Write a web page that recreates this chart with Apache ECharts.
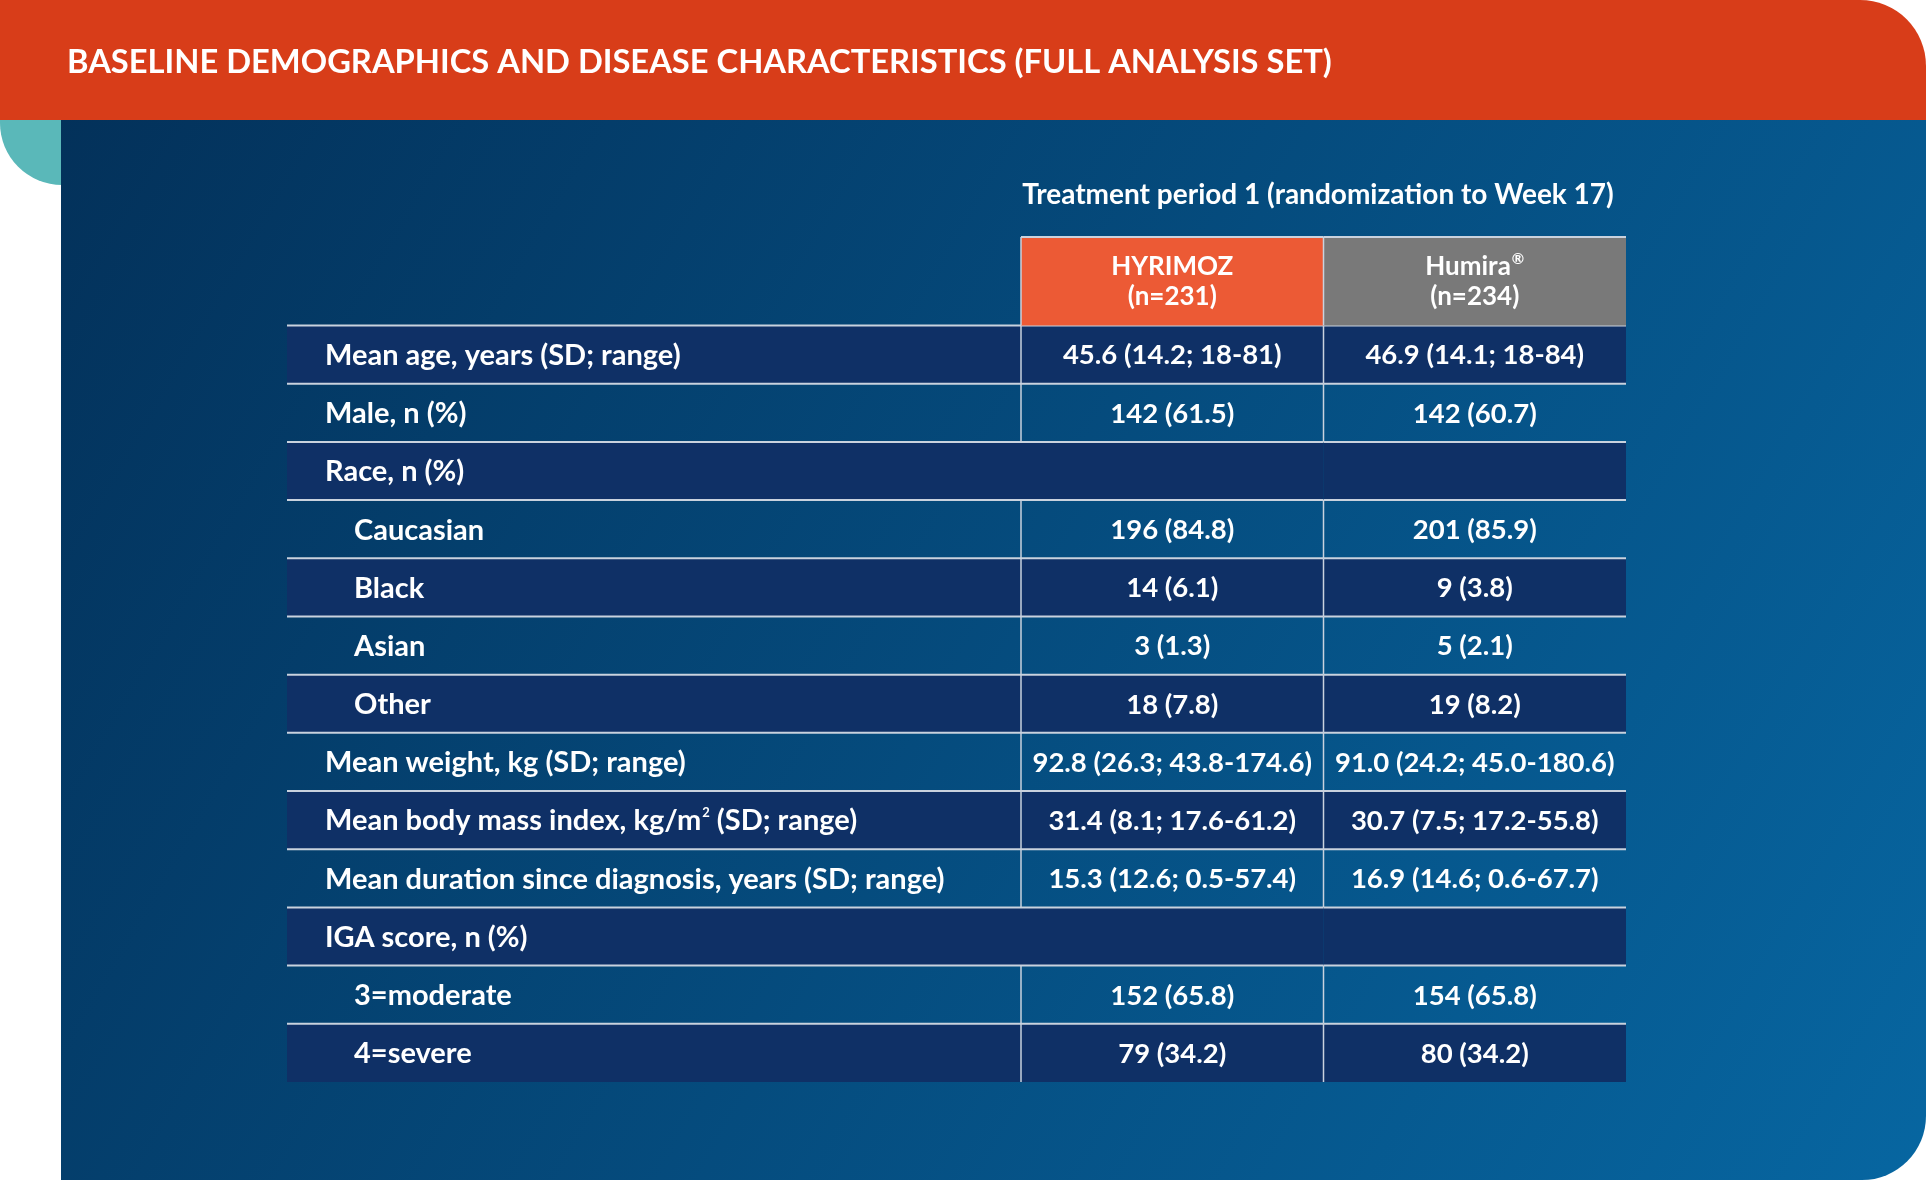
<!DOCTYPE html>
<html><head><meta charset="utf-8">
<script src="https://cdn.jsdelivr.net/npm/echarts@6/dist/echarts.min.js"></script>
<style>html,body{margin:0;padding:0;background:#fff}#main{width:1926px;height:1187px}</style>
</head><body><div id="main"></div>
<script>
const chartTitle = 'BASELINE DEMOGRAPHICS AND DISEASE CHARACTERISTICS (FULL ANALYSIS SET)';
const periodTitle = 'Treatment period 1 (randomization to Week 17)';
const armNames = ['HYRIMOZ', 'Humira'];
const armMarks = ['', '®'];
const armN = [231, 234];
const rowLabels = [
  'Mean age, years (SD; range)',
  'Male, n (%)',
  'Race, n (%)',
  'Caucasian',
  'Black',
  'Asian',
  'Other',
  'Mean weight, kg (SD; range)',
  'Mean body mass index, kg/m{sup|2} (SD; range)',
  'Mean duration since diagnosis, years (SD; range)',
  'IGA score, n (%)',
  '3=moderate',
  '4=severe'
];
const rowIsSub = [false, false, false, true, true, true, true, false, false, false, false, true, true];
const hyrimozValues = ['45.6 (14.2; 18-81)', '142 (61.5)', '', '196 (84.8)', '14 (6.1)', '3 (1.3)', '18 (7.8)',
  '92.8 (26.3; 43.8-174.6)', '31.4 (8.1; 17.6-61.2)', '15.3 (12.6; 0.5-57.4)', '', '152 (65.8)', '79 (34.2)'];
const humiraValues = ['46.9 (14.1; 18-84)', '142 (60.7)', '', '201 (85.9)', '9 (3.8)', '5 (2.1)', '19 (8.2)',
  '91.0 (24.2; 45.0-180.6)', '30.7 (7.5; 17.2-55.8)', '16.9 (14.6; 0.6-67.7)', '', '154 (65.8)', '80 (34.2)'];

const FONT = 'Lato';
const LINE = '#c9d2de';
const DARK = '#0f3066';
const ARM_COLORS = ['#ec5a35', '#797979'];
const LABEL_SIZE = 29;
const VALUE_SIZE = 27.5;

const colValues = [hyrimozValues, humiraValues];
const isSection = rowLabels.map((_, i) => hyrimozValues[i] === '' && humiraValues[i] === '');

const richLabel = {
  t: { fontFamily: FONT, fontWeight: 'bold', fontSize: LABEL_SIZE, fill: '#fff', color: '#fff' },
  sup: { fontFamily: FONT, fontWeight: 'bold', fontSize: 13, fill: '#fff', color: '#fff', verticalAlign: 'top', padding: [0, 0, 14, 1] }
};

function wrapRich(s) {
  return s.split(/(\{sup\|[^}]*\})/).filter(p => p !== '').map(p => p.startsWith('{sup|') ? p : '{t|' + p + '}').join('');
}

function labelCell(params, api) {
  const row = api.value(1);
  const c = api.coord([0, row]);
  const s = api.size([1, 1]);
  const x0 = c[0] - s[0] / 2, y0 = c[1] - s[1] / 2;
  const children = [];
  if (row % 2 === 0) children.push({ type: 'rect', shape: { x: x0, y: y0, width: s[0], height: s[1] }, style: { fill: DARK } });
  children.push({ type: 'line', shape: { x1: x0, y1: y0, x2: x0 + s[0], y2: y0 }, style: { stroke: LINE, lineWidth: 2 } });
  children.push({ type: 'text', x: x0 + (rowIsSub[row] ? 67 : 38), y: c[1] + 1,
    style: { text: wrapRich(rowLabels[row]), rich: richLabel, fill: '#fff', align: 'left', verticalAlign: 'middle' } });
  return { type: 'group', children };
}

function valueCell(params, api) {
  const col = api.value(0), row = api.value(1);
  const c = api.coord([col, row]);
  const s = api.size([1, 1]);
  const x0 = c[0] - s[0] / 2, y0 = c[1] - s[1] / 2;
  const children = [];
  if (row % 2 === 0) children.push({ type: 'rect', shape: { x: x0, y: y0, width: s[0], height: s[1] }, style: { fill: DARK } });
  children.push({ type: 'line', shape: { x1: x0, y1: y0, x2: x0 + s[0], y2: y0 }, style: { stroke: LINE, lineWidth: 2 } });
  if (!isSection[row]) children.push({ type: 'line', shape: { x1: x0, y1: y0, x2: x0, y2: y0 + s[1] }, style: { stroke: LINE, lineWidth: 1.5 } });
  const txt = colValues[col][row];
  if (txt) children.push({ type: 'text', x: c[0], y: c[1] + 1,
    style: { text: txt, fill: '#fff', fontFamily: FONT, fontWeight: 'bold', fontSize: VALUE_SIZE, align: 'center', verticalAlign: 'middle' } });
  return { type: 'group', children };
}

function headerCell(params, api) {
  const col = api.value(0);
  const c = api.coord([col, 0]);
  const s = api.size([1, 1]);
  const x0 = c[0] - s[0] / 2, y0 = c[1] - s[1] / 2;
  return { type: 'group', children: [
    { type: 'rect', shape: { x: x0, y: y0, width: s[0], height: s[1] }, style: { fill: ARM_COLORS[col] } },
    { type: 'line', shape: { x1: x0, y1: y0, x2: x0 + s[0], y2: y0 }, style: { stroke: LINE, lineWidth: 2 } },
    { type: 'line', shape: { x1: x0, y1: y0, x2: x0, y2: y0 + s[1] }, style: { stroke: LINE, lineWidth: 1.5 } },
    { type: 'text', x: c[0], y: c[1], style: {
      text: '{t|' + armNames[col] + '}' + (armMarks[col] ? '{sup|' + armMarks[col] + '}' : '') + '\n{t|(n=' + armN[col] + ')}',
      fill: '#fff',
      rich: {
        t: { fontFamily: FONT, fontWeight: 'bold', fontSize: 26, fill: '#fff', color: '#fff', lineHeight: 30, align: 'center' },
        sup: { fontFamily: FONT, fontWeight: 'bold', fontSize: 15, fill: '#fff', color: '#fff', verticalAlign: 'top', padding: [0, 0, 12, 1] }
      },
      align: 'center', verticalAlign: 'middle' } }
  ] };
}

const chart = echarts.init(document.getElementById('main'), null, { renderer: 'canvas' });
const rowIdx = rowLabels.map((_, i) => i);
chart.setOption({
  backgroundColor: '#fff',
  animation: false,
  title: [
    { text: chartTitle, left: 67, top: 46, padding: 0, textStyle: { color: '#fff', fontFamily: FONT, fontWeight: 'bold', fontSize: 32.7 } },
    { text: periodTitle, left: 1318, top: 181, padding: 0, textAlign: 'center', textStyle: { color: '#fff', fontFamily: FONT, fontWeight: 'bold', fontSize: 28 } }
  ],
  graphic: [
    { type: 'rect', z: -10, shape: { x: 0, y: 60, width: 140, height: 125, r: [0, 0, 0, 62] }, style: { fill: '#5ab8b9' } },
    { type: 'rect', z: -9, shape: { x: 61, y: 100, width: 1865, height: 1080, r: [0, 0, 64, 0] },
      style: { fill: new echarts.graphic.LinearGradient(0, 0, 1, 1, [{ offset: 0, color: '#03315a' }, { offset: 1, color: '#0766a1' }]) } },
    { type: 'rect', z: -8, shape: { x: 0, y: 0, width: 1926, height: 120, r: [0, 66, 0, 0] }, style: { fill: '#d83d19' } }
  ],
  grid: [
    { left: 287, top: 325.5, width: 734, height: 756.5 },
    { left: 1021, top: 325.5, width: 605, height: 756.5 },
    { left: 1021, top: 237, width: 605, height: 88.5 }
  ],
  xAxis: [
    { type: 'category', gridIndex: 0, data: ['Characteristic'], show: false },
    { type: 'category', gridIndex: 1, data: armNames, show: false },
    { type: 'category', gridIndex: 2, data: armNames, show: false }
  ],
  yAxis: [
    { type: 'category', gridIndex: 0, data: rowIdx, inverse: true, show: false },
    { type: 'category', gridIndex: 1, data: rowIdx, inverse: true, show: false },
    { type: 'category', gridIndex: 2, data: ['header'], show: false }
  ],
  series: [
    { type: 'custom', xAxisIndex: 0, yAxisIndex: 0, z: 5, renderItem: labelCell, data: rowIdx.map(i => [0, i]) },
    { type: 'custom', xAxisIndex: 1, yAxisIndex: 1, z: 5, renderItem: valueCell,
      data: rowIdx.map(i => [0, i]).concat(rowIdx.map(i => [1, i])) },
    { type: 'custom', xAxisIndex: 2, yAxisIndex: 2, z: 5, renderItem: headerCell, data: [[0, 0], [1, 0]] }
  ]
});
</script></body></html>
